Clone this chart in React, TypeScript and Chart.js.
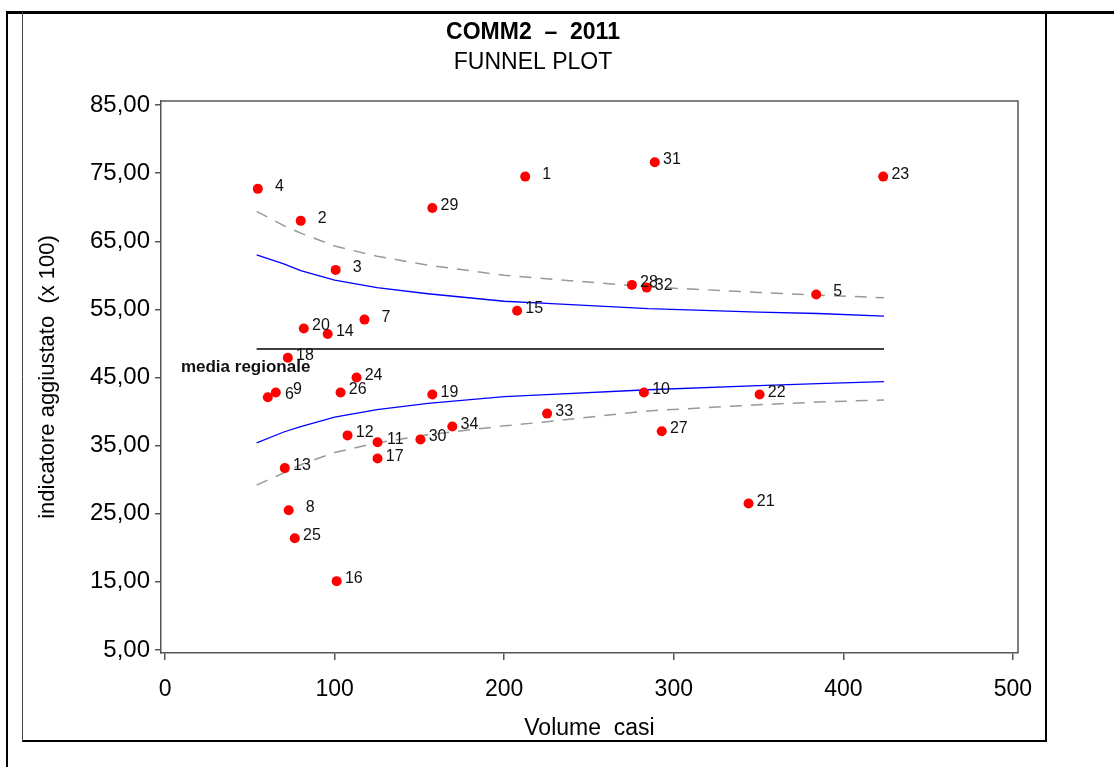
import React, { useEffect, useRef } from "react";
import { Chart, registerables } from "chart.js";

Chart.register(...registerables);

const titleLine1 = "COMM2  –  2011";
const titleLine2 = "FUNNEL PLOT";
const xAxisTitle = "Volume  casi";
const yAxisTitle = "indicatore aggiustato  (x 100)";
const meanLabel = "media regionale";

const xTicks = [0, 100, 200, 300, 400, 500];
const yTicks = [5, 15, 25, 35, 45, 55, 65, 75, 85];

// Units (hospitals): id, volume, adjusted indicator
const unitIds = [
  "4", "2", "3", "29", "1", "31", "23", "28", "32", "5", "15", "7", "20", "14", "18", "24", "26",
  "6", "9", "19", "10", "22", "33", "34", "12", "11", "30", "27", "17", "13", "8", "25", "21", "16",
];
const unitVolume = [
  54.7, 80, 100.6, 157.6, 212.4, 288.8, 423.5, 275.3, 284, 384, 207.6, 117.6, 81.8, 95.9, 72.4, 112.9, 103.5,
  60.6, 65.3, 157.6, 282.4, 350.6, 225.3, 169.4, 107.6, 125.3, 150.6, 292.9, 125.3, 70.6, 72.9, 76.5, 344.1, 101.2,
];
const unitValue = [
  72.7, 68.0, 60.8, 69.9, 74.5, 76.6, 74.5, 58.6, 58.2, 57.2, 54.8, 53.5, 52.2, 51.4, 47.9, 45.0, 42.8,
  42.1, 42.8, 42.5, 42.8, 42.5, 39.7, 37.8, 36.5, 35.5, 35.9, 37.1, 33.1, 31.7, 25.5, 21.4, 26.5, 15.1,
];

// Control limits
const limitX = [54, 70, 80, 100, 125, 155, 200, 225, 285, 350, 385, 424];
const upper95 = [63.0, 61.7, 60.7, 59.3, 58.2, 57.3, 56.2, 55.9, 55.1, 54.6, 54.4, 54.0];
const lower95 = [35.4, 37.0, 37.8, 39.2, 40.3, 41.2, 42.2, 42.5, 43.2, 43.8, 44.1, 44.4];
const upper99 = [69.4, 67.3, 66.2, 64.3, 62.8, 61.5, 60.0, 59.5, 58.3, 57.5, 57.1, 56.7];
const lower99 = [29.2, 31.0, 32.2, 34.0, 35.4, 36.6, 37.9, 38.5, 40.1, 41.0, 41.4, 41.7];
const meanX = [54, 424];
const meanValue = [49.2, 49.2];

const FONT = "'Liberation Sans', Arial, sans-serif";

const decorPlugin = {
  id: "decor",
  beforeDraw(chart: any) {
    const ctx = chart.ctx;
    ctx.save();
    ctx.fillStyle = "#ffffff";
    ctx.fillRect(0, 0, chart.width, chart.height);
    ctx.restore();
  },
  afterDatasetsDraw(chart: any) {
    const ctx = chart.ctx;
    const meta = chart.getDatasetMeta(0);
    ctx.save();
    ctx.font = `16px ${FONT}`;
    ctx.fillStyle = "#111";
    ctx.textAlign = "right";
    ctx.textBaseline = "alphabetic";
    meta.data.forEach((el: any, i: number) => {
      ctx.fillText(unitIds[i], el.x + 26, el.y + 2);
    });
    // mean label
    const xs = chart.scales.x;
    const ys = chart.scales.y;
    ctx.font = `bold 17px ${FONT}`;
    ctx.textAlign = "center";
    ctx.textBaseline = "middle";
    ctx.fillText(meanLabel, xs.getPixelForValue(meanX[0]) - 11, ys.getPixelForValue(meanValue[0]) + 18);
    ctx.restore();
  },
  afterDraw(chart: any) {
    const ctx = chart.ctx;
    const a = chart.chartArea;
    ctx.save();
    // plot frame top/right
    ctx.strokeStyle = "#555";
    ctx.lineWidth = 1.5;
    ctx.beginPath();
    ctx.moveTo(a.left, a.top);
    ctx.lineTo(a.right, a.top);
    ctx.lineTo(a.right, a.bottom);
    ctx.stroke();
    // outer frames
    ctx.strokeStyle = "#000";
    ctx.lineWidth = 3;
    ctx.beginPath();
    ctx.moveTo(6, 12.5);
    ctx.lineTo(1114, 12.5);
    ctx.stroke();
    ctx.lineWidth = 2;
    ctx.beginPath();
    ctx.moveTo(7, 12);
    ctx.lineTo(7, 767);
    ctx.stroke();
    ctx.beginPath();
    ctx.moveTo(1046, 12);
    ctx.lineTo(1046, 741);
    ctx.moveTo(22, 741);
    ctx.lineTo(1047, 741);
    ctx.stroke();
    ctx.strokeStyle = "#444";
    ctx.lineWidth = 1;
    ctx.beginPath();
    ctx.moveTo(22.5, 12);
    ctx.lineTo(22.5, 741);
    ctx.stroke();
    // titles
    ctx.fillStyle = "#000";
    ctx.textAlign = "center";
    ctx.textBaseline = "middle";
    ctx.font = `bold 23px ${FONT}`;
    ctx.fillText(titleLine1, 533, 33);
    ctx.font = `23px ${FONT}`;
    ctx.fillText(titleLine2, 533, 63);
    ctx.restore();
  },
};

export default function App() {
  const ref = useRef<HTMLCanvasElement | null>(null);
  useEffect(() => {
    if (!ref.current) return;
    const pts = unitVolume.map((v, i) => ({ x: v, y: unitValue[i] }));
    const line = (ys: number[]) => limitX.map((x, i) => ({ x, y: ys[i] }));
    const chart = new Chart(ref.current, {
      type: "scatter",
      data: {
        datasets: [
          {
            label: "units",
            data: pts,
            backgroundColor: "#ff0000",
            borderColor: "#ff0000",
            pointRadius: 5,
            pointBorderWidth: 0,
            showLine: false,
          },
          {
            label: "mean",
            data: meanX.map((x, i) => ({ x, y: meanValue[i] })),
            showLine: true,
            borderColor: "#000",
            borderWidth: 1.5,
            pointRadius: 0,
          },
          {
            label: "upper95",
            data: line(upper95),
            showLine: true,
            borderColor: "#0000ff",
            borderWidth: 1.3,
            pointRadius: 0,
          },
          {
            label: "lower95",
            data: line(lower95),
            showLine: true,
            borderColor: "#0000ff",
            borderWidth: 1.3,
            pointRadius: 0,
          },
          {
            label: "upper99",
            data: line(upper99),
            showLine: true,
            borderColor: "#999",
            borderWidth: 1.5,
            borderDash: [12, 9],
            pointRadius: 0,
          },
          {
            label: "lower99",
            data: line(lower99),
            showLine: true,
            borderColor: "#999",
            borderWidth: 1.5,
            borderDash: [12, 9],
            pointRadius: 0,
          },
        ],
      },
      options: {
        animation: false,
        responsive: false,
        devicePixelRatio: 1,
        layout: { padding: { left: 0, top: 101, right: 96, bottom: 0 } },
        plugins: { legend: { display: false }, tooltip: { enabled: false }, title: { display: false } },
        scales: {
          x: {
            type: "linear",
            min: -2.4,
            max: 503,
            afterBuildTicks: (s: any) => {
              s.ticks = xTicks.map((v) => ({ value: v }));
            },
            afterFit: (s: any) => {
              s.height = 114;
            },
            grid: { display: true, drawOnChartArea: false, drawTicks: true, tickLength: 7, color: "#555", lineWidth: 1.5 },
            border: { display: true, color: "#555", width: 1.5 },
            ticks: { font: { family: FONT, size: 23 }, color: "#000", padding: 16, maxRotation: 0, callback: (v: any) => String(v) },
            title: { display: true, text: xAxisTitle, font: { family: FONT, size: 23 }, color: "#000", padding: { top: 0, bottom: 25 } },
          },
          y: {
            type: "linear",
            min: 4.55,
            max: 85.6,
            afterBuildTicks: (s: any) => {
              s.ticks = yTicks.map((v) => ({ value: v }));
            },
            afterFit: (s: any) => {
              s.width = 161;
            },
            grid: { display: true, drawOnChartArea: false, drawTicks: true, tickLength: 6, color: "#555", lineWidth: 1.5 },
            border: { display: true, color: "#555", width: 1.5 },
            ticks: {
              font: { family: FONT, size: 24 },
              color: "#000",
              padding: 5,
              callback: (v: any) => Number(v).toFixed(2).replace(".", ","),
            },
            title: { display: true, text: yAxisTitle, font: { family: FONT, size: 22 }, color: "#000", padding: { top: 35, bottom: 0 } },
          },
        },
      },
      plugins: [decorPlugin],
    } as any);
    return () => chart.destroy();
  }, []);
  return (
    <div style={{ position: "absolute", left: 0, top: 0, width: 1114, height: 767, background: "#fff" }}>
      <canvas ref={ref} width={1114} height={767} style={{ display: "block" }} />
    </div>
  );
}
